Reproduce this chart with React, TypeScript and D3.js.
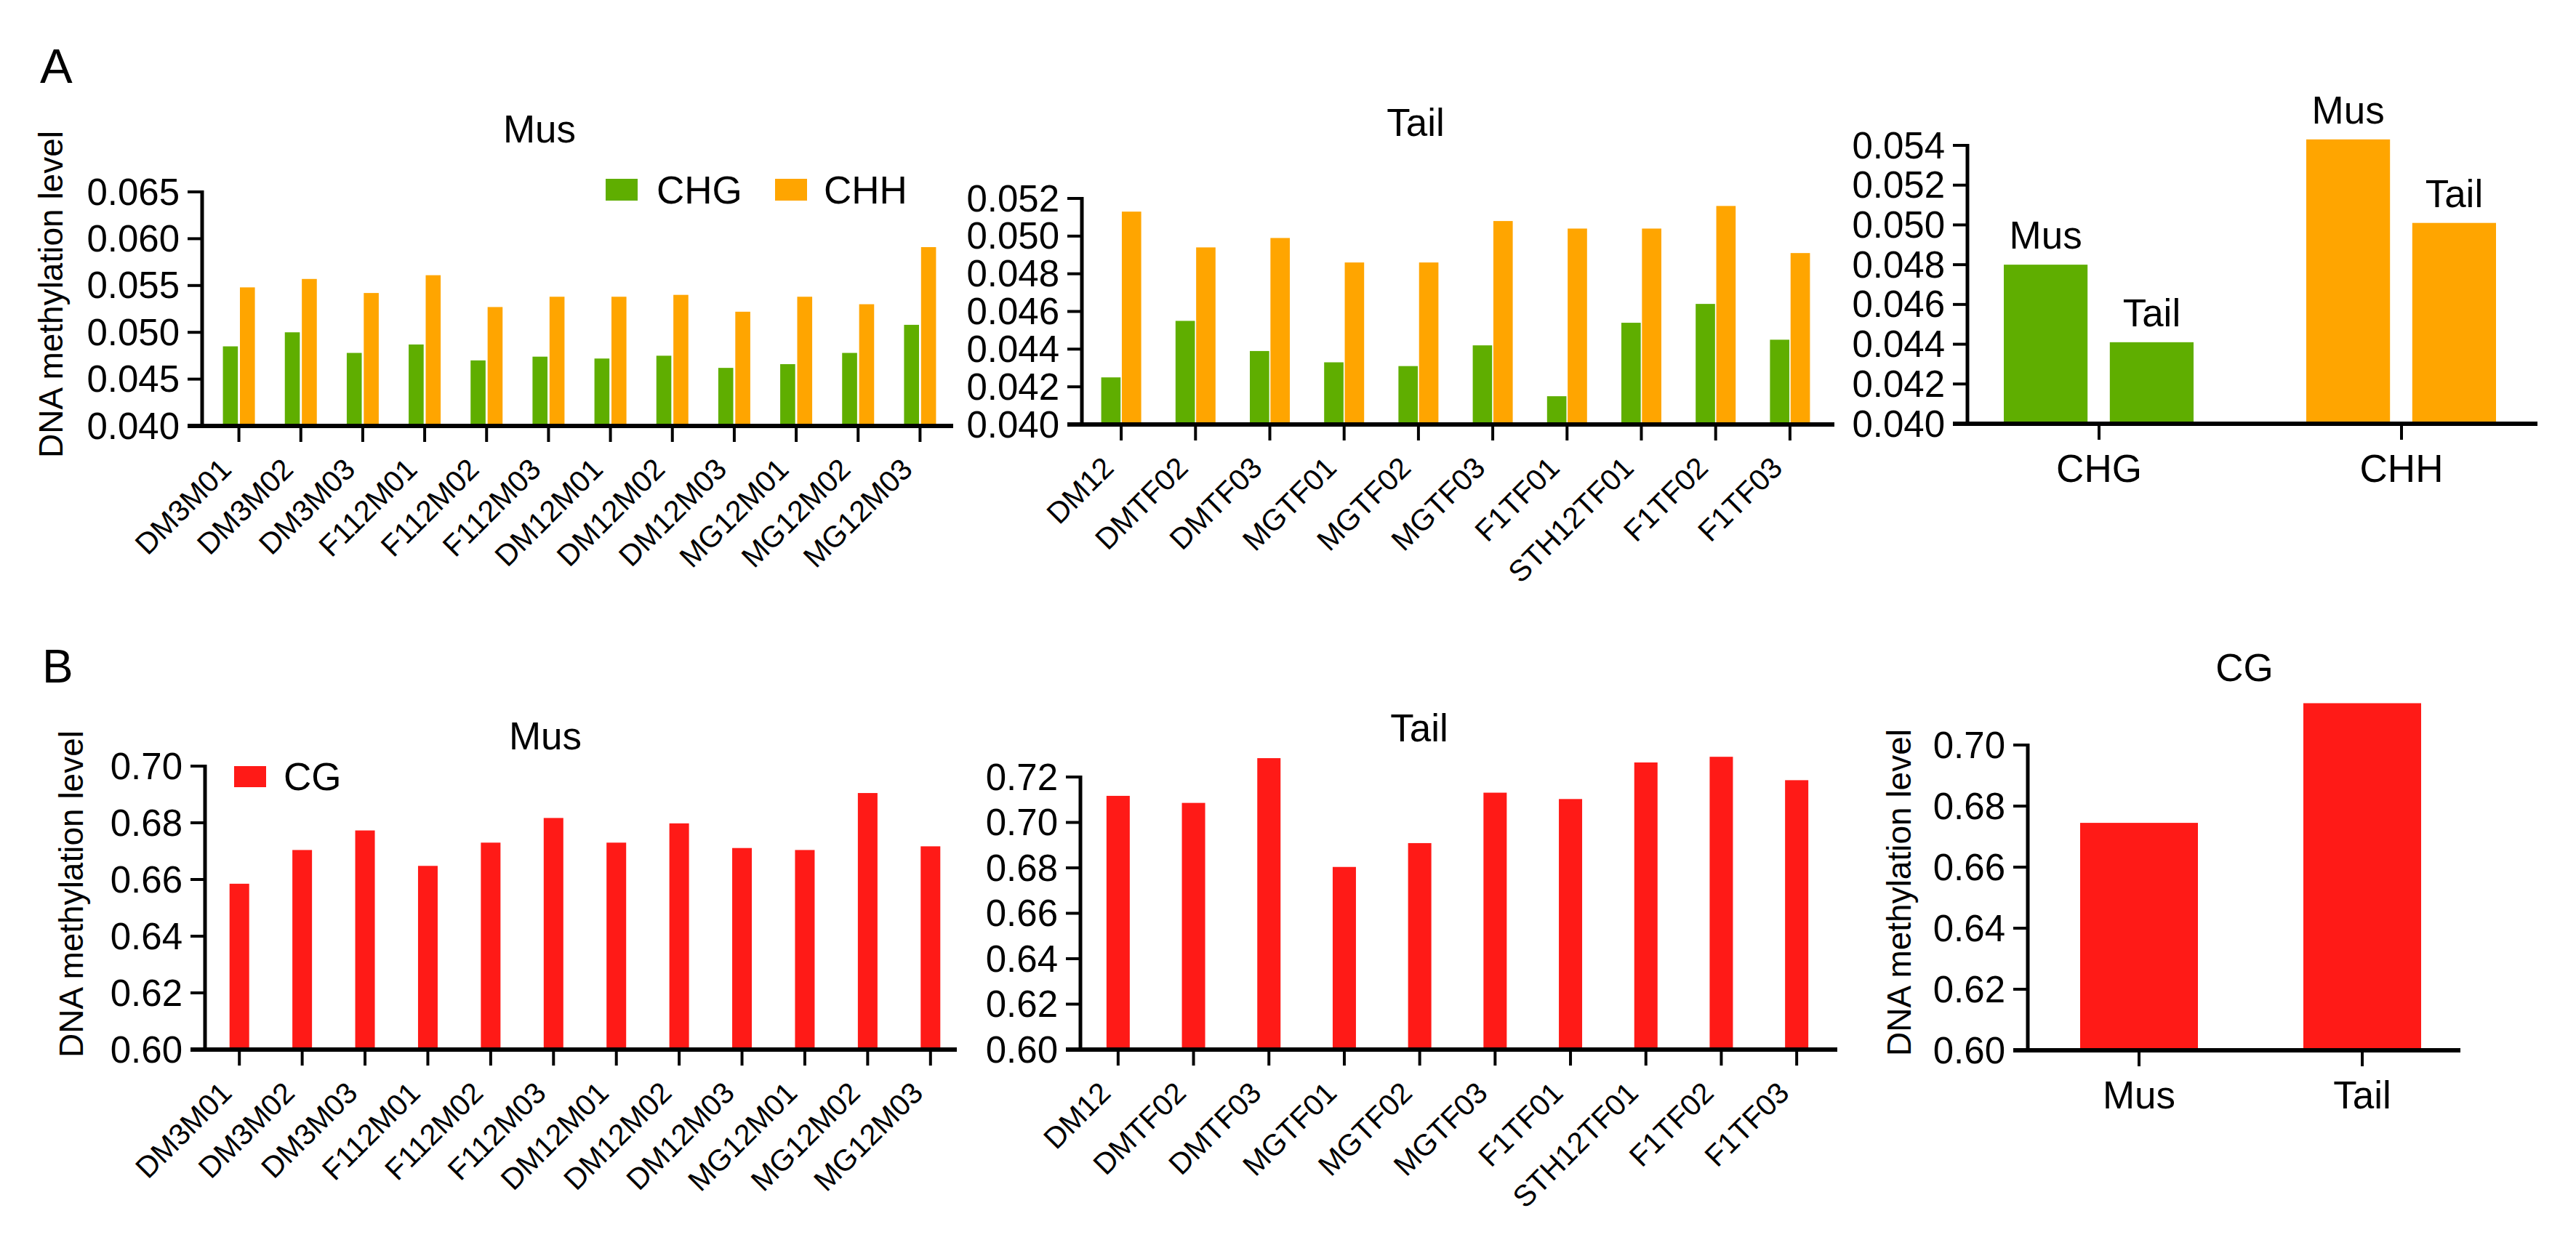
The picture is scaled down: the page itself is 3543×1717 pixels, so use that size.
import React from "react";
import * as d3 from "d3";

// ---------- data ----------
const musSamples = ["DM3M01","DM3M02","DM3M03","F112M01","F112M02","F112M03","DM12M01","DM12M02","DM12M03","MG12M01","MG12M02","MG12M03"];
const tailSamples = ["DM12","DMTF02","DMTF03","MGTF01","MGTF02","MGTF03","F1TF01","STH12TF01","F1TF02","F1TF03"];

const musCHG = [0.0485, 0.0500, 0.0478, 0.0487, 0.0470, 0.0474, 0.0472, 0.0475, 0.0462, 0.0466, 0.0478, 0.0508];
const musCHH = [0.0548, 0.0557, 0.0542, 0.0561, 0.0527, 0.0538, 0.0538, 0.0540, 0.0522, 0.0538, 0.0530, 0.0591];
const tailCHG = [0.0425, 0.0455, 0.0439, 0.0433, 0.0431, 0.0442, 0.0415, 0.0454, 0.0464, 0.0445];
const tailCHH = [0.0513, 0.0494, 0.0499, 0.0486, 0.0486, 0.0508, 0.0504, 0.0504, 0.0516, 0.0491];

const contexts = ["CHG", "CHH"];
const tissues = ["Mus", "Tail"];
const summaryMus = [0.0480, 0.0543];
const summaryTail = [0.0441, 0.0501];

const musCG = [0.6585, 0.6704, 0.6773, 0.6648, 0.6730, 0.6817, 0.6730, 0.6798, 0.6711, 0.6704, 0.6905, 0.6717];
const tailCG = [0.7117, 0.7086, 0.7283, 0.6804, 0.6909, 0.7131, 0.7103, 0.7264, 0.7289, 0.7186];
const cgMean = [0.6745, 0.7137];

const GREEN = "#5fae00";
const ORANGE = "#ffa500";
const RED = "#ff1a17";
const FONT = "'Liberation Sans', Arial, Helvetica, sans-serif";

type PanelProps = {
  cats: string[];
  series: number[][];
  seriesNames: string[];
  color: (ci: number, si: number) => string;
  axisX: number;
  axisEnd: number;
  yMin: number;
  yMax: number;
  yBottom: number;
  yTop: number;
  tickStep: number;
  fmt: string;
  bandRange: [number, number];
  groupRange: [number, number];
  groupPad: number;
  rotate: boolean;
  barLabels?: boolean;
};

function Panel(p: PanelProps) {
  const y = d3.scaleLinear().domain([p.yMin, p.yMax]).range([p.yBottom, p.yTop]);
  const x = d3.scaleBand<string>().domain(p.cats).range(p.bandRange).padding(0);
  const sub = d3
    .scaleBand<string>()
    .domain(p.seriesNames)
    .range(p.groupRange)
    .paddingInner(p.groupPad)
    .paddingOuter(0);
  const nT = Math.round((p.yMax - p.yMin) / p.tickStep);
  const ticks = d3.range(0, nT + 1).map((i) => p.yMin + i * p.tickStep);
  const f = d3.format(p.fmt);
  const tickLen = 20;
  const tickEnd = p.yBottom + 22;
  const cx = (c: string) => (x(c) as number) + x.bandwidth() / 2;
  return (
    <g>
      {p.series.map((vals, si) =>
        vals.map((v, ci) => {
          const c = p.cats[ci];
          const bx = cx(c) + (sub(p.seriesNames[si]) as number);
          return (
            <rect
              key={`b${si}-${ci}`}
              x={bx}
              y={y(v)}
              width={sub.bandwidth()}
              height={p.yBottom - y(v)}
              fill={p.color(ci, si)}
            />
          );
        })
      )}
      {p.barLabels &&
        p.series.map((vals, si) =>
          vals.map((v, ci) => {
            const c = p.cats[ci];
            const bx = cx(c) + (sub(p.seriesNames[si]) as number) + sub.bandwidth() / 2;
            return (
              <text key={`l${si}-${ci}`} x={bx} y={y(v) - 22} textAnchor="middle" fontSize={53} fontFamily={FONT}>
                {p.seriesNames[si]}
              </text>
            );
          })
        )}
      {/* y axis */}
      <line x1={p.axisX} x2={p.axisX} y1={p.yTop - 2} y2={p.yBottom} stroke="#000" strokeWidth={5} />
      {ticks.map((t, i) => (
        <g key={`yt${i}`}>
          <line x1={p.axisX - tickLen} x2={p.axisX} y1={y(t)} y2={y(t)} stroke="#000" strokeWidth={4} />
          <text
            x={p.axisX - 31}
            y={y(t)}
            textAnchor="end"
            dominantBaseline="central"
            fontSize={51}
            fontFamily={FONT}
          >
            {f(t)}
          </text>
        </g>
      ))}
      {/* x axis */}
      <line x1={p.axisX - tickLen} x2={p.axisEnd} y1={p.yBottom} y2={p.yBottom} stroke="#000" strokeWidth={6} />
      {p.cats.map((c) => (
        <g key={`xt${c}`}>
          <line x1={cx(c)} x2={cx(c)} y1={p.yBottom} y2={tickEnd} stroke="#000" strokeWidth={4} />
          {p.rotate ? (
            <text
              transform={`translate(${cx(c) - 8},${tickEnd + 40}) rotate(-45)`}
              textAnchor="end"
              fontSize={41}
              fontFamily={FONT}
            >
              {c}
            </text>
          ) : (
            <text x={cx(c)} y={tickEnd + 58} textAnchor="middle" fontSize={53} fontFamily={FONT}>
              {c}
            </text>
          )}
        </g>
      ))}
    </g>
  );
}

function YLabel({ x, y }: { x: number; y: number }) {
  return (
    <text
      transform={`translate(${x},${y}) rotate(-90)`}
      textAnchor="middle"
      fontSize={46}
      fontFamily={FONT}
    >
      DNA methylation level
    </text>
  );
}

function Title({ x, y, t }: { x: number; y: number; t: string }) {
  return (
    <text x={x} y={y} textAnchor="middle" fontSize={53} fontFamily={FONT}>
      {t}
    </text>
  );
}

export default function App() {
  return (
    <svg
      width={3543}
      height={1717}
      viewBox="0 0 3543 1717"
      style={{ position: "absolute", left: 0, top: 0, background: "#fff" }}
    >
      <rect x={0} y={0} width={3543} height={1717} fill="#fff" />
      {/* panel letters */}
      <text x={55} y={114} fontSize={67} fontFamily={FONT}>A</text>
      <text x={58} y={939} fontSize={64} fontFamily={FONT}>B</text>

      {/* ---------- A: Mus ---------- */}
      <Title x={742} y={196} t="Mus" />
      <YLabel x={86} y={405} />
      <rect x={833} y={246} width={44} height={30} fill={GREEN} />
      <text x={903} y={280} fontSize={53} fontFamily={FONT}>CHG</text>
      <rect x={1066} y={246} width={44} height={30} fill={ORANGE} />
      <text x={1133} y={280} fontSize={53} fontFamily={FONT}>CHH</text>
      <Panel
        cats={musSamples}
        series={[musCHG, musCHH]}
        seriesNames={["CHG", "CHH"]}
        color={(_c, s) => (s === 0 ? GREEN : ORANGE)}
        axisX={278}
        axisEnd={1311}
        yMin={0.04}
        yMax={0.065}
        yBottom={586}
        yTop={264}
        tickStep={0.005}
        fmt=".3f"
        bandRange={[286, 1308]}
        groupRange={[-22, 22]}
        groupPad={0.12}
        rotate={true}
      />

      {/* ---------- A: Tail ---------- */}
      <Title x={1947} y={187} t="Tail" />
      <Panel
        cats={tailSamples}
        series={[tailCHG, tailCHH]}
        seriesNames={["CHG", "CHH"]}
        color={(_c, s) => (s === 0 ? GREEN : ORANGE)}
        axisX={1488}
        axisEnd={2523}
        yMin={0.04}
        yMax={0.052}
        yBottom={584}
        yTop={273}
        tickStep={0.002}
        fmt=".3f"
        bandRange={[1491, 2513]}
        groupRange={[-27.5, 27.5]}
        groupPad={0.06}
        rotate={true}
      />

      {/* ---------- A: summary ---------- */}
      <Panel
        cats={contexts}
        series={[summaryMus, summaryTail]}
        seriesNames={tissues}
        color={(c) => (c === 0 ? GREEN : ORANGE)}
        axisX={2706}
        axisEnd={3490}
        yMin={0.04}
        yMax={0.054}
        yBottom={583}
        yTop={200}
        tickStep={0.002}
        fmt=".3f"
        bandRange={[2679, 3511]}
        groupRange={[-131, 130]}
        groupPad={0.21}
        rotate={false}
        barLabels={true}
      />

      {/* ---------- B: Mus ---------- */}
      <Title x={750} y={1031} t="Mus" />
      <YLabel x={114} y={1230} />
      <rect x={322} y={1054} width={44} height={29} fill={RED} />
      <text x={390} y={1087} fontSize={53} fontFamily={FONT}>CG</text>
      <Panel
        cats={musSamples}
        series={[musCG]}
        seriesNames={["CG"]}
        color={() => RED}
        axisX={282}
        axisEnd={1316}
        yMin={0.6}
        yMax={0.7}
        yBottom={1444}
        yTop={1054}
        tickStep={0.02}
        fmt=".2f"
        bandRange={[286, 1323]}
        groupRange={[-13.5, 13.5]}
        groupPad={0}
        rotate={true}
      />

      {/* ---------- B: Tail ---------- */}
      <Title x={1952} y={1020} t="Tail" />
      <Panel
        cats={tailSamples}
        series={[tailCG]}
        seriesNames={["CG"]}
        color={() => RED}
        axisX={1486}
        axisEnd={2527}
        yMin={0.6}
        yMax={0.72}
        yBottom={1444}
        yTop={1069}
        tickStep={0.02}
        fmt=".2f"
        bandRange={[1486, 2523]}
        groupRange={[-16, 16]}
        groupPad={0}
        rotate={true}
      />

      {/* ---------- B: CG summary ---------- */}
      <Title x={3087} y={937} t="CG" />
      <YLabel x={2628} y={1228} />
      <Panel
        cats={tissues}
        series={[cgMean]}
        seriesNames={["CG"]}
        color={() => RED}
        axisX={2789}
        axisEnd={3384}
        yMin={0.6}
        yMax={0.7}
        yBottom={1445}
        yTop={1025}
        tickStep={0.02}
        fmt=".2f"
        bandRange={[2788.5, 3402.5]}
        groupRange={[-81, 81]}
        groupPad={0}
        rotate={false}
      />
    </svg>
  );
}
